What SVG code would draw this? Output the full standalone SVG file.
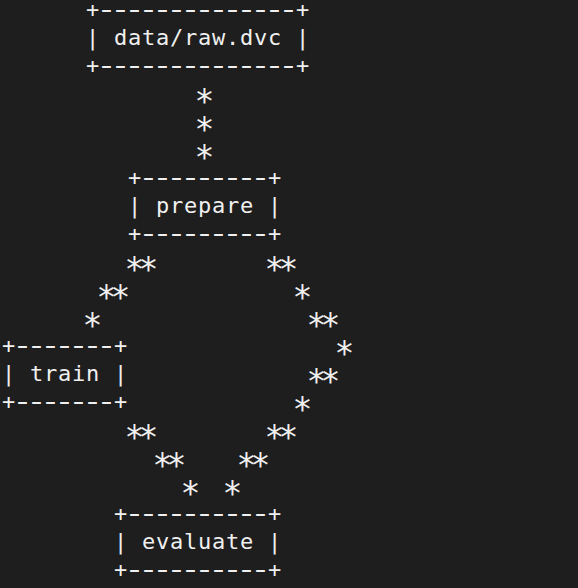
<svg xmlns="http://www.w3.org/2000/svg" width="578" height="588" viewBox="0 0 578 588">
<style>
text{font-family:"DejaVu Sans Mono","Liberation Mono",monospace;fill:#f0f0f0;white-space:pre}
.t{font-size:22px;letter-spacing:0.76px}
.d{font-size:34px;letter-spacing:-6.47px}
.s{font-size:33px;text-anchor:middle}
.p{font-size:33px;letter-spacing:-5.87px}
</style>
<rect width="578" height="588" fill="#1e1e1e"/>
<g id="node-data-raw">
<text class="t" x="86" y="17">+</text>
<text class="d" transform="translate(96.27,18.1) scale(1,0.75)">--------------</text>
<text class="t" x="296" y="17">+</text>
<text class="t" x="86" y="45" xml:space="preserve">| data/raw.dvc |</text>
<text class="t" x="86" y="73">+</text>
<text class="d" transform="translate(96.27,74.1) scale(1,0.75)">--------------</text>
<text class="t" x="296" y="73">+</text>
</g>
<g id="node-prepare">
<text class="t" x="128" y="185">+</text>
<text class="d" transform="translate(138.27,186.1) scale(1,0.75)">---------</text>
<text class="t" x="268" y="185">+</text>
<text class="t" x="128" y="213" xml:space="preserve">| prepare |</text>
<text class="t" x="128" y="241">+</text>
<text class="d" transform="translate(138.27,242.1) scale(1,0.75)">---------</text>
<text class="t" x="268" y="241">+</text>
</g>
<g id="node-train">
<text class="t" x="2" y="353">+</text>
<text class="d" transform="translate(12.27,354.1) scale(1,0.75)">-------</text>
<text class="t" x="114" y="353">+</text>
<text class="t" x="2" y="381" xml:space="preserve">| train |</text>
<text class="t" x="2" y="409">+</text>
<text class="d" transform="translate(12.27,410.1) scale(1,0.75)">-------</text>
<text class="t" x="114" y="409">+</text>
</g>
<g id="node-evaluate">
<text class="t" x="114" y="521">+</text>
<text class="d" transform="translate(124.27,522.1) scale(1,0.75)">----------</text>
<text class="t" x="268" y="521">+</text>
<text class="t" x="114" y="549" xml:space="preserve">| evaluate |</text>
<text class="t" x="114" y="577">+</text>
<text class="d" transform="translate(124.27,578.1) scale(1,0.75)">----------</text>
<text class="t" x="268" y="577">+</text>
</g>
<g id="connectors">
<text class="s" x="204.5" y="112.5">*</text>
<text class="s" x="204.5" y="140.5">*</text>
<text class="s" x="204.5" y="168.5">*</text>
<text class="p" x="124.57" y="280.5">**</text>
<text class="p" x="264.57" y="280.5">**</text>
<text class="p" x="96.57" y="308.5">**</text>
<text class="s" x="302.5" y="308.5">*</text>
<text class="s" x="92.5" y="336.5">*</text>
<text class="p" x="306.57" y="336.5">**</text>
<text class="s" x="344.5" y="364.5">*</text>
<text class="p" x="306.57" y="392.5">**</text>
<text class="s" x="302.5" y="420.5">*</text>
<text class="p" x="124.57" y="448.5">**</text>
<text class="p" x="264.57" y="448.5">**</text>
<text class="p" x="152.57" y="476.5">**</text>
<text class="p" x="236.57" y="476.5">**</text>
<text class="s" x="190.5" y="504.5">*</text>
<text class="s" x="232.5" y="504.5">*</text>
</g>
</svg>
